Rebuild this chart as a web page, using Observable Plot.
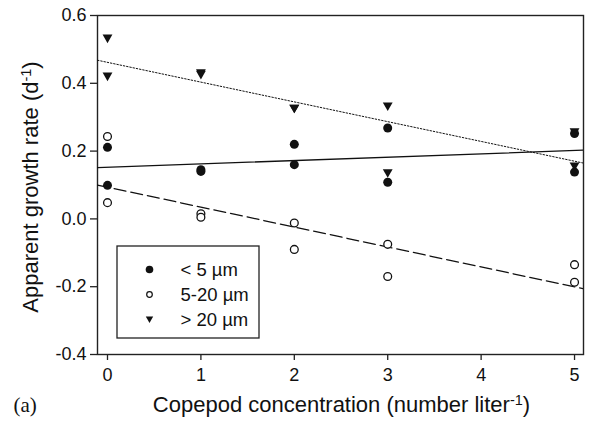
<!DOCTYPE html>
<html>
<head>
<meta charset="utf-8">
<script src="https://cdn.jsdelivr.net/npm/d3@7"></script>
<script src="https://cdn.jsdelivr.net/npm/@observablehq/plot@0.6"></script>
<style>
  html, body { margin: 0; padding: 0; background: #fff; }
  svg { display: block; }
</style>
</head>
<body>
<div id="chart"></div>
<script>
// ---- data ----
const concentrations = [0, 0, 1, 1, 2, 2, 3, 3, 5, 5];
const small  = [0.211, 0.099, 0.145, 0.140, 0.220, 0.160, 0.268, 0.108, 0.252, 0.138];   // < 5 µm
const medium = [0.243, 0.048, 0.015, 0.005, -0.012, -0.090, -0.075, -0.170, -0.135, -0.187]; // 5-20 µm
const large  = [0.532, 0.420, 0.430, 0.425, 0.325, 0.325, 0.332, 0.135, 0.256, 0.155];   // > 20 µm
const seriesNames = ["< 5 µm", "5-20 µm", "> 20 µm"];
const xTicks = [0, 1, 2, 3, 4, 5];
const yTicks = [-0.4, -0.2, 0.0, 0.2, 0.4, 0.6];
const xTitleParts = ["Copepod concentration (number liter", "-1", ")"];
const yTitleParts = ["Apparent growth rate (d", "-1", ")"];
const panelLabel = "(a)";

// ---- helpers ----
const toRows = (ys) => concentrations.map((x, i) => ({x, y: ys[i]}));
function fit(xs, ys) {
  const mx = d3.mean(xs), my = d3.mean(ys);
  const slope = d3.sum(xs, (x, i) => (x - mx) * (ys[i] - my)) / d3.sum(xs, x => (x - mx) ** 2);
  return {slope, intercept: my - slope * mx};
}
const xDomain = [-0.107, 5.096];
const fitLine = (ys) => {
  const {slope, intercept} = fit(concentrations, ys);
  return xDomain.map(x => ({x, y: intercept + slope * x}));
};
const triangleDown = {
  draw(context, size) {
    const r = Math.sqrt(size / Math.PI);
    context.moveTo(-1.12 * r, -0.9 * r);
    context.lineTo(1.12 * r, -0.9 * r);
    context.lineTo(0, 1.05 * r);
    context.closePath();
  }
};
const sans = "'Liberation Sans', Arial, Helvetica, sans-serif";
const ink = "#111";

const legendSymbols = [
  {symbol: "circle", fill: ink, stroke: "none", r: 3.8, sw: 0},
  {symbol: "circle", fill: "white", stroke: ink, r: 2.8, sw: 1.2},
  {symbol: triangleDown, fill: ink, stroke: "none", r: 3.3, sw: 0}
];

function legendBox(index, scales, values, dims) {
  const g = d3.create("svg:g");
  g.append("rect")
    .attr("x", dims.marginLeft + 20)
    .attr("y", dims.marginTop + 231)
    .attr("width", 142)
    .attr("height", 92)
    .attr("fill", "white")
    .attr("stroke", "#222")
    .attr("stroke-width", 1.3);
  return g.node();
}

const legendMarks = seriesNames.flatMap((name, i) => [
  Plot.dot([name], {
    frameAnchor: "top-left", dx: 52, dy: 254 + 25 * i,
    symbol: legendSymbols[i].symbol, r: legendSymbols[i].r,
    fill: legendSymbols[i].fill, stroke: legendSymbols[i].stroke, strokeWidth: legendSymbols[i].sw
  }),
  Plot.text([name], {
    frameAnchor: "top-left", dx: 83, dy: 255 + 25 * i,
    text: d => d, textAnchor: "start", lineAnchor: "middle",
    fontSize: 18.5, fill: ink
  })
]);

const chart = Plot.plot({
  width: 590,
  height: 421,
  marginTop: 15,
  marginBottom: 67,
  marginLeft: 97,
  marginRight: 7,
  style: {fontFamily: sans, color: "#222", background: "white"},
  x: {domain: xDomain},
  y: {domain: [-0.4, 0.6]},
  marks: [
    Plot.frame({stroke: "#222", strokeWidth: 1.4}),
    Plot.axisX({ticks: xTicks, tickSize: 6, tickPadding: 8, tickFormat: d => String(d),
                fontSize: 18, label: null, strokeWidth: 1.3, fill: ink}),
    Plot.axisY({ticks: yTicks, tickSize: 7, tickPadding: 4, tickFormat: d => d.toFixed(1),
                fontSize: 18, label: null, strokeWidth: 1.3, fill: ink}),
    // regression lines
    Plot.line(fitLine(small), {x: "x", y: "y", stroke: ink, strokeWidth: 1.3, clip: true}),
    Plot.line(fitLine(medium), {x: "x", y: "y", stroke: ink, strokeWidth: 1.3, strokeDasharray: "12,5", clip: true}),
    Plot.line(fitLine(large), {x: "x", y: "y", stroke: ink, strokeWidth: 1, strokeDasharray: "1.5,1.8", clip: true}),
    // data points
    Plot.dot(toRows(small), {x: "x", y: "y", symbol: "circle", r: 4.5, fill: ink}),
    Plot.dot(toRows(medium), {x: "x", y: "y", symbol: "circle", r: 3.9, fill: "white", stroke: ink, strokeWidth: 1.3}),
    Plot.dot(toRows(large), {x: "x", y: "y", symbol: triangleDown, r: 4.4, fill: ink}),
    // legend
    legendBox,
    ...legendMarks,
    // titles
    Plot.text([xTitleParts.join("")], {
      frameAnchor: "bottom", dx: 1, dy: 57, text: d => d, textAnchor: "middle", lineAnchor: "bottom",
      fontSize: 22, fill: ink
    }),
    Plot.text([yTitleParts.join("")], {
      frameAnchor: "left", dx: -60, dy: 2, rotate: -90, text: d => d, textAnchor: "middle", lineAnchor: "bottom",
      fontSize: 22, fill: ink
    }),
    Plot.text([panelLabel], {
      frameAnchor: "bottom-left", dx: -84, dy: 57, text: d => d, textAnchor: "start", lineAnchor: "bottom",
      fontSize: 21, fontFamily: "'Liberation Serif', 'Times New Roman', serif", fill: ink
    })
  ]
});

function supify(svg, parts) {
  const full = parts.join("");
  d3.select(svg).selectAll("text")
    .filter(function () { return this.textContent === full; })
    .each(function () {
      const t = d3.select(this);
      t.text(null);
      t.append("tspan").text(parts[0]);
      t.append("tspan").attr("dy", "-7").attr("font-size", "14.5").text(parts[1]);
      t.append("tspan").attr("dy", "7").text(parts[2]);
    });
}
supify(chart, xTitleParts);
supify(chart, yTitleParts);

document.getElementById("chart").appendChild(chart);
</script>
</body>
</html>
